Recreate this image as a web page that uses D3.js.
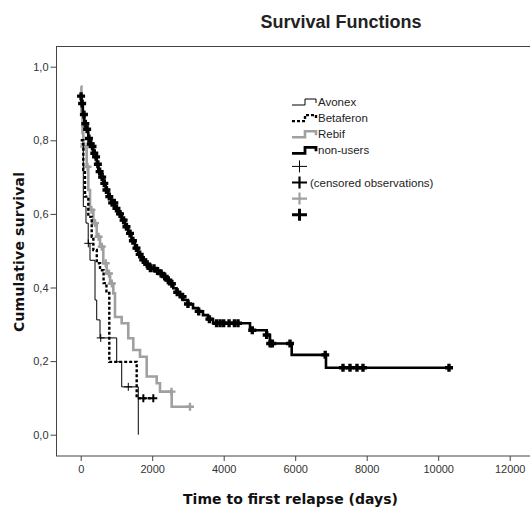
<!DOCTYPE html>
<html>
<head>
<meta charset="utf-8">
<script src="https://cdnjs.cloudflare.com/ajax/libs/d3/7.8.5/d3.min.js"></script>
<style>
	body { margin: 0; background: #fff; }
	text { font-family: "Liberation Sans", Arial, sans-serif; }
</style>
</head>
<body>
<div id="chart"></div>
<script>
var layout = {
	w: 530,
	h: 509
}

// tick values
var xTicks = [0, 2000, 4000, 6000, 8000, 10000, 12000];
var yTicks = [0, 0.2, 0.4, 0.6, 0.8, 1.0];

// Avonex (thin black)
var avonexT = [0, 73, 148, 210, 260, 400, 448, 540, 1007, 1147, 1611];
var avonexS = [0.79, 0.62, 0.575, 0.52, 0.474, 0.366, 0.312, 0.263, 0.198, 0.130, 0.0];
var avonexEnd = 1611;
var avonexCens = [213, 560, 1331];

// Betaferon (dotted)
var betaT = [0, 73, 120, 213, 308, 354, 450, 540, 640, 720, 800, 1566];
var betaS = [0.80, 0.72, 0.647, 0.592, 0.538, 0.502, 0.466, 0.447, 0.412, 0.385, 0.198, 0.099];
var betaEnd = 2031;
var betaCens = [1752, 2031];

// Rebif (grey)
var rebifT = [0, 20, 50, 73, 167, 213, 260, 354, 448, 540, 632, 727, 822, 912, 959, 1147, 1331, 1471, 1659, 1846, 2126, 2218, 2545];
var rebifS = [0.946, 0.88, 0.82, 0.783, 0.728, 0.665, 0.611, 0.575, 0.538, 0.511, 0.466, 0.438, 0.411, 0.384, 0.32, 0.303, 0.262, 0.230, 0.212, 0.158, 0.140, 0.117, 0.076];
var rebifEnd = 3057;
var rebifCens = [100, 190, 300, 400, 500, 590, 700, 790, 870, 2540, 3057];

// non-users (thick black)
var nonT = [0, 20, 60, 100, 150, 213, 260, 308, 350, 400, 450, 492, 560, 632, 700, 772, 860, 959, 1050, 1147, 1240, 1331, 1420, 1519, 1610, 1706, 1820, 1938, 2080, 2218, 2310, 2406, 2500, 2590, 2680, 2778, 2862, 3000, 3142, 3280, 3421, 3560, 3701, 4736, 5203, 5295, 5902, 6861];
var nonS = [0.92, 0.90, 0.87, 0.845, 0.83, 0.805, 0.79, 0.783, 0.765, 0.755, 0.735, 0.715, 0.70, 0.683, 0.665, 0.647, 0.63, 0.615, 0.60, 0.583, 0.565, 0.547, 0.527, 0.507, 0.49, 0.475, 0.463, 0.452, 0.445, 0.438, 0.43, 0.42, 0.41, 0.398, 0.387, 0.375, 0.366, 0.355, 0.344, 0.335, 0.325, 0.314, 0.303, 0.284, 0.271, 0.248, 0.217, 0.182];
var nonEnd = 10302;
var nonCens = [10, 40, 90, 130, 180, 230, 280, 330, 380, 430, 480, 530, 600, 660, 720, 800, 880, 940, 1000, 1100, 1200, 1280, 1380, 1460, 1560, 1650, 1750, 1860, 1950, 2050, 2150, 2250, 2350, 2450, 2550, 2700, 2850, 3000, 3300, 3600, 3800, 3900, 4000, 4150, 4300, 4400, 4800, 5203, 5300, 5360, 5855, 6840, 7337, 7533, 7728, 7896, 10302];

var legendLabels = ["Avonex", "Betaferon", "Rebif", "non-users", "", "(censored observations)", "", ""];

var svg = d3.select("#chart")
	.append("svg")
	.attr("width", layout.w)
	.attr("height", layout.h);

var frame = { l: 56.5, t: 46.5, b: 456, r: 540 };

var xScale = d3.scaleLinear().domain([0, 12000]).range([80.7, 509.7]),
	yScale = d3.scaleLinear().domain([0, 1]).range([434.7, 66.7]);

// frame
svg.append("rect")
	.attr("x", frame.l)
	.attr("y", frame.t)
	.attr("width", frame.r - frame.l)
	.attr("height", frame.b - frame.t)
	.style("fill", "none")
	.style("stroke", "#444")
	.style("stroke-width", 1);

// axes
var xAxis = svg.append("g")
	.attr("transform", "translate(0," + frame.b + ")")
	.call(d3.axisBottom(xScale).tickValues(xTicks).tickSize(5).tickSizeOuter(0).tickPadding(4)
		.tickFormat(d3.format("d")));
var yAxis = svg.append("g")
	.attr("transform", "translate(" + frame.l + ",0)")
	.call(d3.axisLeft(yScale).tickValues(yTicks).tickSize(6).tickSizeOuter(0).tickPadding(2)
		.tickFormat(function(d){ return d3.format(".1f")(d).replace(".", ","); }));

[xAxis, yAxis].forEach(function(a){
	a.select(".domain").remove();
	a.selectAll("line").style("stroke", "#444");
	a.selectAll("text")
		.style("font-family", "'Liberation Sans', Arial, sans-serif")
		.style("font-size", "11px")
		.style("fill", "#333");
});

// series
function steps(T, S, end){
	var pts = T.map(function(t, i){ return [t, S[i]]; });
	if(end > T[T.length - 1]) pts.push([end, S[S.length - 1]]);
	return pts;
}
function survAt(T, S, t){
	var s = S[0];
	for(var i = 0; i < T.length; i++){ if(T[i] <= t) s = S[i]; }
	return s;
}

var line = d3.line()
	.x(function(d){ return xScale(d[0]); })
	.y(function(d){ return yScale(d[1]); })
	.curve(d3.curveStepAfter);

var series = [
	{ T: rebifT, S: rebifS, end: rebifEnd, cens: rebifCens, color: "#a0a0a0", width: 2.6, dash: "none", cw: 2.4, cs: 4 },
	{ T: nonT, S: nonS, end: nonEnd, cens: nonCens, color: "#000", width: 2.6, dash: "none", cw: 3.4, cs: 4 },
	{ T: betaT, S: betaS, end: betaEnd, cens: betaCens, color: "#000", width: 2.4, dash: "3,2", cw: 2, cs: 4 },
	{ T: avonexT, S: avonexS, end: avonexEnd, cens: avonexCens, color: "#000", width: 1, dash: "none", cw: 1, cs: 4 }
];

series.forEach(function(sr){
	svg.append("path")
		.datum(steps(sr.T, sr.S, sr.end))
		.attr("d", line)
		.style("fill", "none")
		.style("stroke", sr.color)
		.style("stroke-width", sr.width)
		.style("stroke-dasharray", sr.dash);

	svg.append("g")
		.selectAll("path")
		.data(sr.cens)
		.enter().append("path")
		.attr("d", function(t){
			var x = xScale(t), y = yScale(survAt(sr.T, sr.S, t));
			return "M" + (x - sr.cs) + "," + y + "H" + (x + sr.cs) + "M" + x + "," + (y - sr.cs) + "V" + (y + sr.cs);
		})
		.style("fill", "none")
		.style("stroke", sr.color)
		.style("stroke-width", sr.cw);
});

// legend
var legend = svg.append("g").attr("transform", "translate(292,0)");
var rowY = function(i){ return 102 + i * 16.1; };
var legStyles = [
	{ color: "#000", width: 1, dash: "none" },
	{ color: "#000", width: 2.4, dash: "3,2" },
	{ color: "#a0a0a0", width: 2.6, dash: "none" },
	{ color: "#000", width: 2.8, dash: "none" },
	{ color: "#000", width: 1 },
	{ color: "#000", width: 2.2 },
	{ color: "#a0a0a0", width: 2.2 },
	{ color: "#000", width: 3 }
];
legStyles.forEach(function(st, i){
	var y = rowY(i);
	if(i < 4){
		legend.append("path")
			.attr("d", "M0," + (y + 3) + "H13V" + (y - 3) + "H24V" + (y + 1))
			.style("fill", "none")
			.style("stroke", st.color)
			.style("stroke-width", st.width)
			.style("stroke-dasharray", st.dash);
	}else{
		legend.append("path")
			.attr("d", "M0," + y + "H15M7.5," + (y - 6) + "V" + (y + 6))
			.style("fill", "none")
			.style("stroke", st.color)
			.style("stroke-width", st.width);
	}
	legend.append("text")
		.attr("x", i < 4 ? 26 : 18)
		.attr("y", y + 4)
		.style("font-size", "11.5px")
		.style("fill", "#222")
		.text(legendLabels[i]);
});

// titles
svg.append("text")
	.attr("x", 341)
	.attr("y", 28)
	.attr("text-anchor", "middle")
	.style("font-size", "18px")
	.style("font-weight", "bold")
	.style("fill", "#222")
	.text("Survival Functions");

svg.append("text")
	.attr("x", 290.5)
	.attr("y", 504)
	.attr("text-anchor", "middle")
	.attr("textLength", 215)
	.style("font-family", "'DejaVu Sans', sans-serif")
	.style("font-size", "14px")
	.style("font-weight", "bold")
	.style("fill", "#111")
	.text("Time to first relapse (days)");

svg.append("text")
	.attr("transform", "translate(24,252) rotate(-90)")
	.attr("text-anchor", "middle")
	.attr("textLength", 160)
	.style("font-family", "'DejaVu Sans', sans-serif")
	.style("font-size", "14px")
	.style("font-weight", "bold")
	.style("fill", "#111")
	.text("Cumulative survival");
</script>
</body>
</html>
